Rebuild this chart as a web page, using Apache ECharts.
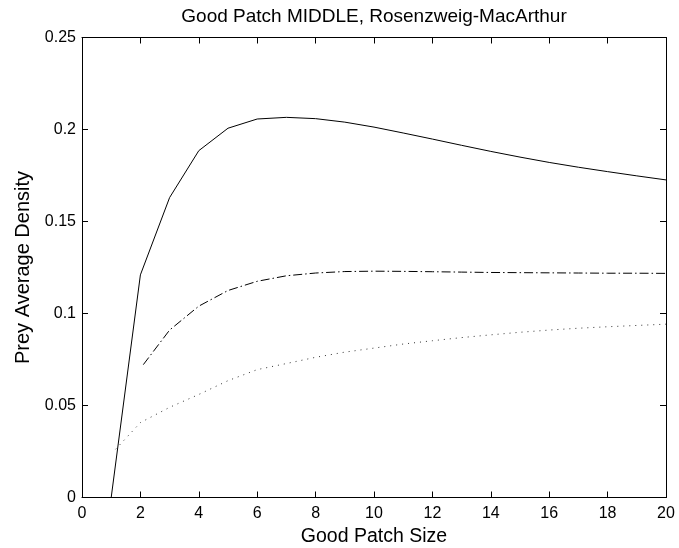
<!DOCTYPE html>
<html>
<head>
<meta charset="utf-8">
<style>
  html, body { margin: 0; padding: 0; background: #fff; }
  #chart { width: 679px; height: 548px; }
</style>
<script src="https://cdn.jsdelivr.net/npm/echarts@6/dist/echarts.min.js"></script>
</head>
<body>
<div id="chart"></div>
<script>
// Good patch sizes and prey average density for three model variants
const patchSizes = [1, 2, 3, 4, 5, 6, 7, 8, 9, 10, 11, 12, 13, 14, 15, 16, 17, 18, 19, 20];
const solidDensity = [0, 0.121, 0.163, 0.1885, 0.2007, 0.2057, 0.2066, 0.2059, 0.204, 0.2013,
  0.1981, 0.1948, 0.1914, 0.1881, 0.1850, 0.1821, 0.1795, 0.1771, 0.1748, 0.1726];

const dashDotX = [2.1, 3, 4, 5, 6, 7, 8, 9, 10, 11, 12, 13, 14, 15, 16, 17, 18, 19, 20];
const dashDotDensity = [0.0722, 0.091, 0.104, 0.1125, 0.1175, 0.1205, 0.1220, 0.1228, 0.1230,
  0.1229, 0.1227, 0.1225, 0.1223, 0.1222, 0.1221, 0.1220, 0.1219, 0.1219, 0.1218];

const dottedX = [1.15, 2, 3, 4, 5, 6, 7, 8, 9, 10, 11, 12, 13, 14, 15, 16, 17, 18, 19, 20];
const dottedDensity = [0.0262, 0.0407, 0.049, 0.056, 0.0635, 0.0695, 0.0728, 0.0762, 0.0790,
  0.0812, 0.0834, 0.0852, 0.0869, 0.0884, 0.0898, 0.0910, 0.0920, 0.0928, 0.0935, 0.0942];

const xTicks = [0, 2, 4, 6, 8, 10, 12, 14, 16, 18, 20];
const yTicks = [0, 0.05, 0.1, 0.15, 0.2, 0.25];

const pairs = (xs, ys) => xs.map((x, i) => [x, ys[i]]);
const font = 'Liberation Sans, Arial, Helvetica, sans-serif';

// Box-style axis: black line with short ticks pointing into the plot
const boxLine = () => ({ show: true, onZero: false, lineStyle: { color: '#000', width: 1 } });
const boxTick = () => ({ show: true, inside: true, length: 6, lineStyle: { color: '#000', width: 1 } });

const chart = echarts.init(document.getElementById('chart'), null, { renderer: 'canvas' });
chart.setOption({
  animation: false,
  backgroundColor: '#fff',
  title: {
    text: 'Good Patch MIDDLE, Rosenzweig-MacArthur',
    left: 374, top: 7, textAlign: 'center', padding: 0,
    textStyle: { fontFamily: font, fontSize: 19, fontWeight: 'normal', color: '#000' }
  },
  grid: { left: 82, right: 13, top: 37.5, bottom: 50.5, outerBoundsMode: 'none', containLabel: false },
  xAxis: [{
    type: 'value', min: xTicks[0], max: xTicks[xTicks.length - 1], interval: 2,
    position: 'bottom',
    name: 'Good Patch Size', nameLocation: 'middle', nameGap: 25,
    nameTextStyle: { fontFamily: font, fontSize: 19.5, color: '#000' },
    axisLine: boxLine(), axisTick: boxTick(), splitLine: { show: false },
    axisLabel: { fontFamily: font, fontSize: 16, color: '#000', margin: 8 }
  }, {
    type: 'value', min: xTicks[0], max: xTicks[xTicks.length - 1], interval: 2,
    position: 'top',
    axisLine: boxLine(), axisTick: boxTick(), splitLine: { show: false },
    axisLabel: { show: false }
  }],
  yAxis: [{
    type: 'value', min: yTicks[0], max: yTicks[yTicks.length - 1], interval: 0.05,
    position: 'left',
    name: 'Prey Average Density', nameLocation: 'middle', nameGap: 44,
    nameTextStyle: { fontFamily: font, fontSize: 20, color: '#000' },
    axisLine: boxLine(), axisTick: boxTick(), splitLine: { show: false },
    axisLabel: { fontFamily: font, fontSize: 16, color: '#000', margin: 6,
      formatter: v => String(+v.toFixed(2)) }
  }, {
    type: 'value', min: yTicks[0], max: yTicks[yTicks.length - 1], interval: 0.05,
    position: 'right',
    axisLine: boxLine(), axisTick: boxTick(), splitLine: { show: false },
    axisLabel: { show: false }
  }],
  series: [{
    type: 'line', data: pairs(patchSizes, solidDensity), showSymbol: false,
    lineStyle: { color: '#000', width: 1, type: 'solid' }, z: 3
  }, {
    type: 'line', data: pairs(dashDotX, dashDotDensity), showSymbol: false,
    lineStyle: { color: '#000', width: 1, type: [9, 3, 1.5, 3] }
  }, {
    type: 'line', data: pairs(dottedX, dottedDensity), showSymbol: false,
    lineStyle: { color: '#333', width: 1, type: [1, 5] }
  }]
});
</script>
</body>
</html>
